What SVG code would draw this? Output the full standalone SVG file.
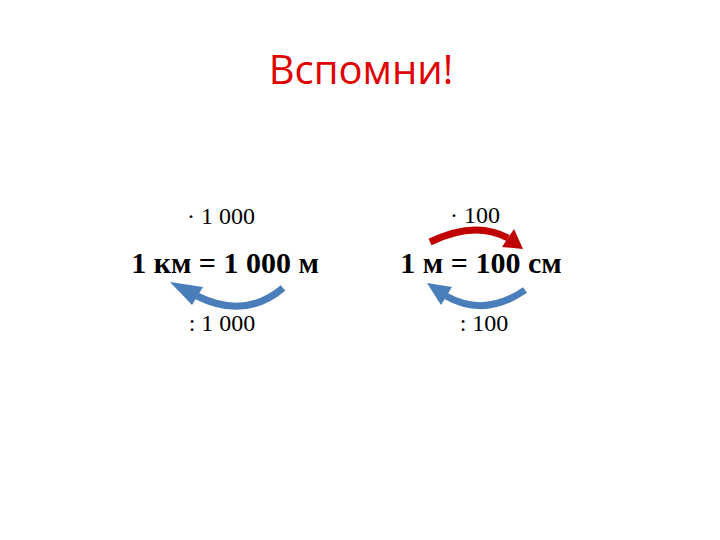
<svg xmlns="http://www.w3.org/2000/svg" width="720" height="540" viewBox="0 0 720 540">
<style>
.title{font-family:"Open Sans","Liberation Sans",sans-serif;font-size:40px;fill:#e00000}
.op{font-family:"Liberation Serif",serif;font-size:24px;fill:#000}
.eq{font-family:"Liberation Serif",serif;font-size:30px;font-weight:bold;fill:#000}
.blue{fill:none;stroke:#4a7ebb;stroke-width:7}
.red{fill:none;stroke:#c00000;stroke-width:7}
.bh{fill:#4a7ebb}
.rh{fill:#c00000}
</style>
<rect width="720" height="540" fill="#fff"/>
<g id="title"><text class="title" x="361" y="84" text-anchor="middle">Вспомни!</text></g>
<g id="km">
<text class="op" x="221" y="224" text-anchor="middle">· 1 000</text>
<text class="eq" x="225" y="273" text-anchor="middle">1 км = 1 000 м</text>
<text class="op" x="222" y="331" text-anchor="middle">: 1 000</text>
</g>
<g id="m">
<text class="op" x="475" y="223" text-anchor="middle">· 100</text>
<text class="eq" x="481" y="273" text-anchor="middle">1 м = 100 см</text>
<text class="op" x="484" y="331" text-anchor="middle">: 100</text>
</g>
<g id="connectors">
<path class="blue" d="M283 288 Q245 320 197 296"/>
<polygon class="bh" points="170,282 203,287 192,305"/>
<path class="red" d="M430 242 Q475 220 508 238"/>
<polygon class="rh" points="523,249 502,247 514,229"/>
<path class="blue" d="M525 290 Q485 318 446 296"/>
<polygon class="bh" points="427,283 452,287 441,305"/>
</g>
</svg>
